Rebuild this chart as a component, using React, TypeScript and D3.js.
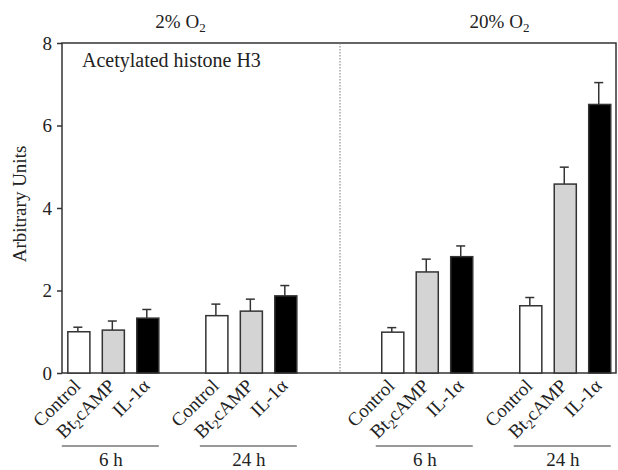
import React, { useEffect, useRef } from "react";
import * as d3 from "d3";

const oxygen = ["2%", "20%"];
const times = ["6 h", "24 h"];
const treatments = ["Control", "Bt2cAMP", "IL-1\u03b1"];
const fills = ["#ffffff", "#d4d4d4", "#000000"];
// means per oxygen → time → treatment
const means2 = [[1.0, 1.04, 1.33], [1.39, 1.5, 1.87]];
const errs2 = [[0.11, 0.22, 0.21], [0.28, 0.29, 0.25]];
const means20 = [[0.99, 2.45, 2.82], [1.63, 4.58, 6.51]];
const errs20 = [[0.11, 0.31, 0.26], [0.2, 0.41, 0.53]];
const yTicks = [0, 2, 4, 6, 8];

const W = 618;
const H = 470;
const margin = { left: 62, right: 2, top: 43, bottom: 97 };

export default function App() {
  const ref = useRef<SVGSVGElement>(null);

  useEffect(() => {
    const svg = d3.select(ref.current);
    svg.selectAll("*").remove();
    const font = "'Liberation Serif', 'Times New Roman', serif";

    const innerW = W - margin.left - margin.right;
    const innerH = H - margin.top - margin.bottom;
    const g = svg.append("g").attr("transform", `translate(${margin.left},${margin.top})`);

    const y = d3.scaleLinear().domain([0, 8]).range([innerH, 0]);
    const xPanel = d3.scaleBand().domain(oxygen).range([0, innerW]).padding(0);
    const xTime = (o: string) =>
      d3.scaleBand().domain(times).range([0, xPanel.bandwidth()])
        .paddingInner(0.345).paddingOuter(0.176).align(o === "2%" ? 0.12 : 0.88);
    const xTreat = d3.scaleBand().domain(treatments).range([0, 91]).paddingInner(0.36).paddingOuter(0);

    // frame
    g.append("rect").attr("x", 0).attr("y", 0).attr("width", innerW).attr("height", innerH)
      .attr("fill", "none").attr("stroke", "#333").attr("stroke-width", 1.5);
    g.append("line").attr("x1", xPanel("20%")! + 1).attr("x2", xPanel("20%")! + 1)
      .attr("y1", 0).attr("y2", innerH).attr("stroke", "#777").attr("stroke-width", 1)
      .attr("stroke-dasharray", "1.5,1.5");

    // y axis
    const yAxis = d3.axisLeft(y).tickValues(yTicks).tickSize(5).tickPadding(5).tickFormat(d3.format("d"));
    const ya = g.append("g").call(yAxis);
    ya.select(".domain").remove();
    ya.selectAll("line").attr("stroke", "#333").attr("stroke-width", 1.5);
    ya.selectAll("text").attr("font-family", font).attr("font-size", 19).attr("fill", "#222");

    svg.append("text").attr("transform", `translate(26,${margin.top + innerH / 2 - 4}) rotate(-90)`)
      .attr("text-anchor", "middle").attr("font-family", font).attr("font-size", 19).attr("fill", "#222")
      .text("Arbitrary Units");

    g.append("text").attr("x", 20).attr("y", 24).attr("font-family", font).attr("font-size", 20)
      .attr("fill", "#222").text("Acetylated histone H3");

    const data = [
      { o: "2%", m: means2, e: errs2 },
      { o: "20%", m: means20, e: errs20 },
    ];

    data.forEach(({ o, m, e }) => {
      const px = xPanel(o)!;
      const xt = xTime(o);
      // panel title
      const title = svg.append("text")
        .attr("x", margin.left + px + xPanel.bandwidth() / 2 + (o === "2%" ? -20 : 22))
        .attr("y", 28).attr("text-anchor", "middle").attr("font-family", font)
        .attr("font-size", 19).attr("fill", "#222");
      title.append("tspan").text(`${o} O`);
      title.append("tspan").attr("font-size", 13).attr("dy", 4).text("2");

      times.forEach((t, ti) => {
        const gx = px + xt(t)!;
        treatments.forEach((tr, k) => {
          const bx = gx + xTreat(tr)!;
          const bw = xTreat.bandwidth();
          const v = m[ti][k];
          const ev = e[ti][k];
          const cx = bx + bw / 2 - 1;
          g.append("line").attr("x1", cx).attr("x2", cx).attr("y1", y(v)).attr("y2", y(v + ev))
            .attr("stroke", "#333").attr("stroke-width", 1.5);
          g.append("line").attr("x1", cx - 4.5).attr("x2", cx + 4.5).attr("y1", y(v + ev)).attr("y2", y(v + ev))
            .attr("stroke", "#333").attr("stroke-width", 1.5);
          g.append("rect").attr("x", bx).attr("y", y(v)).attr("width", bw).attr("height", y(0) - y(v))
            .attr("fill", fills[k]).attr("stroke", "#333").attr("stroke-width", 1.5);

          const lab = g.append("text")
            .attr("transform", `translate(${cx + 4},${innerH + 14}) rotate(-45)`)
            .attr("text-anchor", "end").attr("font-family", font).attr("font-size", 19).attr("fill", "#222");
          if (tr === "Bt2cAMP") {
            lab.append("tspan").text("Bt");
            lab.append("tspan").attr("font-size", 13).attr("dy", 4).text("2");
            lab.append("tspan").attr("dy", -4).text("cAMP");
          } else {
            lab.text(tr);
          }
        });
        g.append("line").attr("x1", gx - 6).attr("x2", gx + 91).attr("y1", innerH + 73).attr("y2", innerH + 73)
          .attr("stroke", "#999").attr("stroke-width", 2);
        g.append("text").attr("x", gx + 43).attr("y", innerH + 93).attr("text-anchor", "middle")
          .attr("font-family", font).attr("font-size", 19).attr("fill", "#222").text(t);
      });
    });
  }, []);

  return (
    <svg ref={ref} width={W} height={H}
      style={{ display: "block", position: "absolute", left: 0, top: 0, background: "#fff" }} />
  );
}
